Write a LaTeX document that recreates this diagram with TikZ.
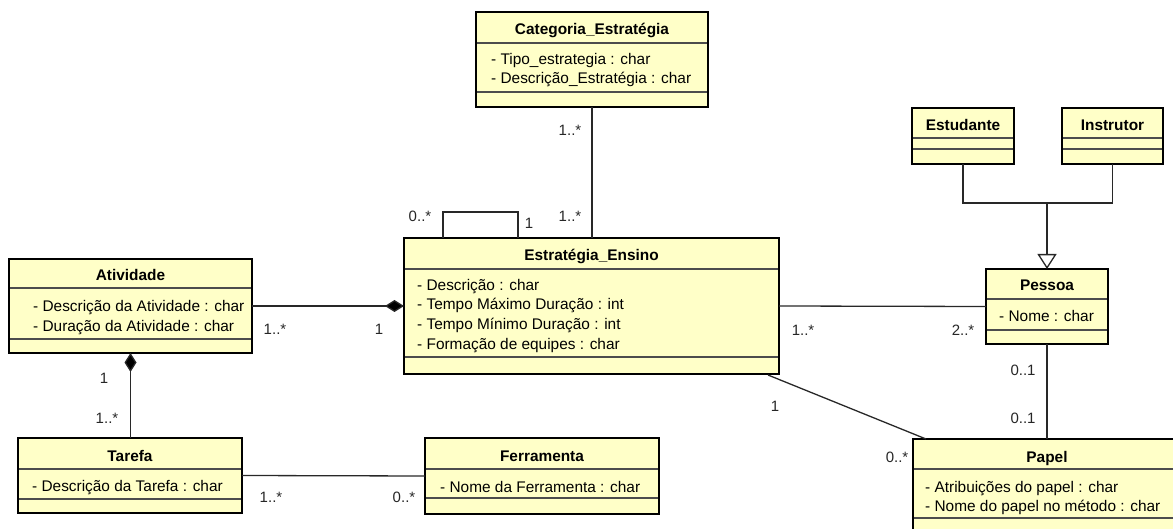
\documentclass[tikz,border=0pt]{standalone}
\usepackage{fontspec}
\setmainfont{Liberation Sans}
\usetikzlibrary{arrows.meta,calc}
\definecolor{classfill}{RGB}{255,255,200}
\definecolor{wirecol}{RGB}{40,40,40}

% separator line inside a class box, at height #2
\newcommand{\classsep}[2]{%
  \draw[sepline] ([xshift=1.3pt]#1.west |- 0,#2) -- ([xshift=-1.3pt]#1.east |- 0,#2);}

\begin{document}
\begin{tikzpicture}[x=1pt,y=-1pt,
  cls/.style={draw=black, line width=2.6pt, fill=classfill, rectangle, inner sep=0pt, outer sep=0pt},
  sepline/.style={draw=black!70, line width=1.3pt},
  ctitle/.style={font=\fontsize{15.4}{18}\selectfont\bfseries, anchor=base, inner sep=0pt},
  cattr/.style={font=\fontsize{15.4}{18}\selectfont, anchor=base west, inner sep=0pt},
  mult/.style={font=\fontsize{15}{18}\selectfont, anchor=base, inner sep=0pt, text=black!85},
  wire/.style={draw=wirecol, line width=1.3pt},
  compo/.style={wire, {Diamond[length=19pt,width=12pt,fill=black]}-},
  gen/.style={wire, -{Triangle[open,length=15pt,width=19pt,fill=white]}},
]
\useasboundingbox (0,0) rectangle (1173,529);
\clip (0,0) rectangle (1173,529);

% class boxes
\node[cls, minimum width=232pt, minimum height=95pt]  (cat)   at (592,59.5)   {};
\node[cls, minimum width=102pt, minimum height=56pt]  (estud) at (963,136)    {};
\node[cls, minimum width=101pt, minimum height=56pt]  (instr) at (1112.5,136) {};
\node[cls, minimum width=375pt, minimum height=136pt] (est)   at (591.5,306)  {};
\node[cls, minimum width=243pt, minimum height=94pt]  (atv)   at (130.5,306)  {};
\node[cls, minimum width=224pt, minimum height=75pt]  (tar)   at (130,475.5)  {};
\node[cls, minimum width=234pt, minimum height=76pt]  (fer)   at (542,476)    {};
\node[cls, minimum width=122pt, minimum height=75pt]  (pes)   at (1047,306.5) {};
\node[cls, minimum width=277pt, minimum height=103pt] (pap)   at (1051.5,490.5) {};

% compartment separators
\classsep{cat}{43}   \classsep{cat}{92}
\classsep{estud}{138} \classsep{estud}{149}
\classsep{instr}{138} \classsep{instr}{149}
\classsep{est}{269}  \classsep{est}{357}
\classsep{atv}{288}  \classsep{atv}{339}
\classsep{tar}{469}  \classsep{tar}{499}
\classsep{fer}{469}  \classsep{fer}{498}
\classsep{pes}{299}  \classsep{pes}{330}
\classsep{pap}{469}  \classsep{pap}{518}

% names and attributes
\node[ctitle] (cat-t) at (592,35) {Categoria\_Estratégia};
\node[cattr] (cat-a1) at (491,65) {- Tipo\_estrategia : char};
\node[cattr] (cat-a2) at (491,84) {- Descrição\_Estratégia : char};

\node[ctitle] (estud-t) at (963,131) {Estudante};
\node[ctitle] (instr-t) at (1112.5,131) {Instrutor};

\node[ctitle] (est-t) at (591.5,261) {Estratégia\_Ensino};
\node[cattr] (est-a1) at (417,291) {- Descrição : char};
\node[cattr] (est-a2) at (417,310) {- Tempo Máximo Duração : int};
\node[cattr] (est-a3) at (417,330) {- Tempo Mínimo Duração : int};
\node[cattr] (est-a4) at (417,349) {- Formação de equipes : char};

\node[ctitle] (atv-t) at (130.5,281) {Atividade};
\node[cattr] (atv-a1) at (33,312) {- Descrição da Atividade : char};
\node[cattr] (atv-a2) at (33,332) {- Duração da Atividade : char};

\node[ctitle] (tar-t) at (130,461) {Tarefa};
\node[cattr] (tar-a1) at (32,491) {- Descrição da Tarefa : char};

\node[ctitle] (fer-t) at (542,461) {Ferramenta};
\node[cattr] (fer-a1) at (440,492) {- Nome da Ferramenta : char};

\node[ctitle] (pes-t) at (1047,291) {Pessoa};
\node[cattr] (pes-a1) at (999,322) {- Nome : char};

\node[ctitle] (pap-t) at (1047,462) {Papel};
\node[cattr] (pap-a1) at (925,492) {- Atribuições do papel : char};
\node[cattr] (pap-a2) at (925,511) {- Nome do papel no método : char};

% associations
\draw[wire] (cat.south) -- (cat.south |- est.north);
\draw[compo] (est.west) -- (atv.east);
\draw[compo] (atv.south) -- (atv.south |- tar.north);
\draw[wire] (tar.east) -- (fer.west);
\draw[wire] (est.east) -- (pes.west);
\draw[wire] (pes.south) -- (pes.south |- pap.north);
\draw[wire] ($(est.south east)+(-11,1)$) -- ($(pap.north west)+(13,0)$);
\draw[wire] ($(est.north west)+(39,0)$) |- ($(est.north west)+(114,-26)$) -- ($(est.north west)+(114,0)$);

% generalization
\coordinate (gj) at (1047,203);
\draw[wire] (estud.south) |- (gj) -| (instr.south);
\draw[gen] (gj) -- (pes.north);

% multiplicities
\node[mult] (m1)  at (570,136) {1..*};
\node[mult] (m2)  at (570,222) {1..*};
\node[mult] (m3)  at (420,222) {0..*};
\node[mult] (m4)  at (529,229) {1};
\node[mult] (m5)  at (275,335) {1..*};
\node[mult] (m6)  at (379,335) {1};
\node[mult] (m7)  at (803,336) {1..*};
\node[mult] (m8)  at (963,336) {2..*};
\node[mult] (m9)  at (1023,375) {0..1};
\node[mult] (m10) at (1023,423) {0..1};
\node[mult] (m11) at (775,411) {1};
\node[mult] (m12) at (897,462) {0..*};
\node[mult] (m13) at (104,384) {1};
\node[mult] (m14) at (107,423) {1..*};
\node[mult] (m15) at (271,502) {1..*};
\node[mult] (m16) at (404,502) {0..*};
\end{tikzpicture}
\end{document}
